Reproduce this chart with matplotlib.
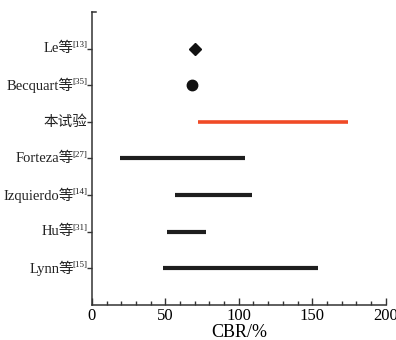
import matplotlib.pyplot as plt
from matplotlib.ticker import MultipleLocator

plt.rcParams['font.family'] = ['Liberation Serif', 'Noto Sans CJK SC']

# studies from bottom to top
names = ['Lynn等', 'Hu等', 'Izquierdo等', 'Forteza等', '本试验', 'Becquart等', 'Le等']
refs = ['[15]', '[31]', '[14]', '[27]', '', '[35]', '[13]']
cbr_min = [48.7, 51.0, 56.7, 19.3, 72.3, None, None]
cbr_max = [153.8, 77.8, 109.3, 104.1, 174.1, None, None]
point_vals = {'Becquart等': 68.2, 'Le等': 70.3}

fig = plt.figure(figsize=(3.96, 3.40), dpi=100)
ax = fig.add_axes([0.232, 0.103, 0.742, 0.862])

ypos = list(range(1, len(names) + 1))
for y, name, lo, hi in zip(ypos, names, cbr_min, cbr_max):
    if lo is None:
        continue
    color = '#f04a26' if name == '本试验' else '#1e1e1e'
    lw = 2.6 if name == '本试验' else 3.0
    ax.plot([lo, hi], [y, y], color=color, lw=lw, solid_capstyle='butt')

ax.plot(point_vals['Le等'], ypos[names.index('Le等')], marker='D', ms=6,
        color='#111111', ls='none')
ax.plot(point_vals['Becquart等'], ypos[names.index('Becquart等')], marker='o',
        ms=7.5, color='#111111', ls='none')

ax.set_xlim(0, 200)
ax.set_ylim(0, 8)
ax.xaxis.set_major_locator(MultipleLocator(50))
ax.xaxis.set_minor_locator(MultipleLocator(10))
ax.tick_params(axis='x', which='major', direction='in', length=5, width=1,
               labelsize=12, pad=2, color='#333333')
ax.tick_params(axis='x', which='minor', direction='in', length=3, width=1,
               color='#333333')
ax.set_yticks(ypos)
ax.set_yticklabels([''] * len(ypos))
ax.tick_params(axis='y', direction='out', length=3.5, width=1, color='#333333')

for side in ['top', 'right']:
    ax.spines[side].set_visible(False)
for side in ['left', 'bottom']:
    ax.spines[side].set_linewidth(1.1)
    ax.spines[side].set_color('#333333')

# small cap at the top of the y axis
ax.plot([0, 2.5], [8, 8], color='#333333', lw=1.1, clip_on=False)

# y labels with superscript references
for y, name, ref in zip(ypos, names, refs):
    if ref:
        sup = ax.annotate(ref, xy=(0, y), xycoords=('axes fraction', 'data'),
                          xytext=(-3, -0.5), textcoords='offset points',
                          ha='right', va='bottom', fontsize=6.5,
                          color='#222222')
        ax.annotate(name, xy=(0, y), xycoords=(sup, 'data'),
                    xytext=(1, 0), textcoords='offset points',
                    ha='right', va='center', fontsize=10.5, color='#222222')
    else:
        ax.annotate(name, xy=(0, y), xycoords=('axes fraction', 'data'),
                    xytext=(-3, 0), textcoords='offset points',
                    ha='right', va='center', fontsize=10.5, color='#222222')

ax.set_xlabel('CBR/%', fontsize=13, labelpad=0)

fig.savefig('out.png', dpi=100)
